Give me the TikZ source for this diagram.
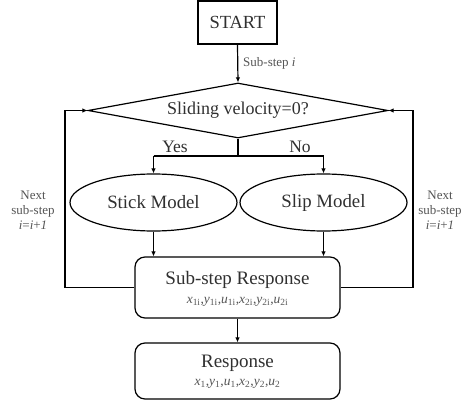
\documentclass[tikz,border=0pt]{standalone}
\usepackage{fontspec}
\setmainfont{Liberation Serif}
\usetikzlibrary{shapes.geometric,arrows.meta}
\definecolor{txt}{HTML}{303030}
\definecolor{lbl}{HTML}{555555}
\newcommand\varsubx[2]{\textit{#1}\textsubscript{#2}}
\begin{document}
\begin{tikzpicture}[x=1pt,y=-1pt,
  every node/.style={text=txt},
  line/.style={draw=black,line width=1.2pt},
  arr/.style={line,-{Latex[length=5pt,width=4.5pt]}},
  startbox/.style={draw=black,line width=2pt,minimum width=79pt,minimum height=43pt,inner sep=0pt,font=\fontsize{18.5}{21}\selectfont},
  decision/.style={draw=black,line width=1.2pt,diamond,aspect=5.45,minimum width=300pt,minimum height=55pt,inner sep=0pt,font=\fontsize{18}{20}\selectfont},
  model/.style={draw=black,line width=1.2pt,ellipse,minimum width=167pt,minimum height=57pt,inner sep=0pt,font=\fontsize{18.8}{21}\selectfont},
  resbox/.style={draw=black,line width=1.2pt,rounded corners=10pt,minimum width=205pt,inner sep=0pt},
  title/.style={font=\fontsize{19}{21}\selectfont,inner sep=0pt},
  formula/.style={font=\fontsize{13.5}{15}\selectfont,text=lbl,inner sep=0pt},
  small/.style={font=\fontsize{13}{15}\selectfont,text=lbl,inner sep=0pt,align=center}
]
\useasboundingbox (0,0) rectangle (474,401);
\node[startbox] (start) at (237.5,22.5) {START};
\node[decision] (dec) at (238,110.5) {Sliding velocity=0?};
\node[model] (stick) at (153.5,202.5) {Stick Model};
\node[model] (slip) at (323.5,202.5) {Slip Model};
\node[resbox,minimum height=61pt] (sub) at (237.5,287.5) {};
\node[resbox,minimum height=56pt] (resp) at (237.5,371) {};
\node[title] (subt) at (237.5,280) {Sub-step Response};
\node[formula] (subf) at (237.5,302) {\varsubx{x}{1i},\varsubx{y}{1i},\varsubx{u}{1i},\varsubx{x}{2i},\varsubx{y}{2i},\varsubx{u}{2i}};
\node[title] (respt) at (237.5,363) {Response};
\node[formula] (respf) at (237.5,384) {\varsubx{x}{1},\varsubx{y}{1},\varsubx{u}{1},\varsubx{x}{2},\varsubx{y}{2},\varsubx{u}{2}};
\node[small,anchor=west] (substep) at (243,63) {Sub-step \textit{i}};
\node[font=\fontsize{17.5}{19}\selectfont,inner sep=0pt] (yes) at (175,147) {Yes};
\node[font=\fontsize{17.5}{19}\selectfont,inner sep=0pt] (no) at (300,147) {No};
\node[small] (nextl) at (33,210) {Next\\sub-step\\\textit{i}=\textit{i}+\textit{1}};
\node[small] (nextr) at (440,210) {Next\\sub-step\\\textit{i}=\textit{i}+\textit{1}};
\coordinate (split) at (238,156);
\coordinate (sl) at (153.5,156);
\coordinate (sr) at (323.5,156);
\coordinate (fl) at (65,287.5);
\coordinate (fr) at (413,287.5);
\draw[arr] (start.south) -- (dec.north);
\draw[line] (dec.south) -- (split);
\draw[line] (sl) -- (sr);
\draw[arr] (sl) -- (stick.north);
\draw[arr] (sr) -- (slip.north);
\draw[arr] (stick.south) -- (stick.south |- sub.north);
\draw[arr] (slip.south) -- (slip.south |- sub.north);
\draw[arr] (sub.south) -- (resp.north);
\draw[arr] (sub.west) -- (fl) |- (dec.west);
\draw[arr] (sub.east) -- (fr) |- (dec.east);
\end{tikzpicture}
\end{document}
